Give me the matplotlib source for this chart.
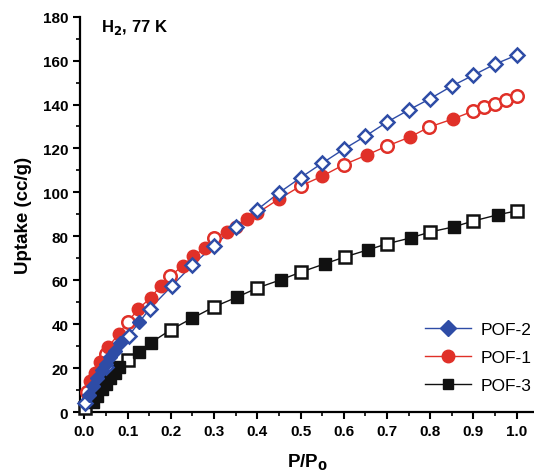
import matplotlib.pyplot as plt
import numpy as np
from matplotlib.ticker import MultipleLocator

# POF-2 (blue diamonds)
pof2_fill_x = [0.01, 0.02, 0.03, 0.04, 0.05, 0.06, 0.07, 0.083, 0.127]
pof2_fill_y = [8, 12, 15.5, 19, 22, 25, 28, 31.4, 41]
pof2_open_x = [0.002, 0.05, 0.102, 0.151, 0.203, 0.25, 0.30, 0.35, 0.40, 0.45, 0.50,
               0.55, 0.60, 0.65, 0.70, 0.75, 0.80, 0.85, 0.90, 0.95, 1.0]
pof2_open_y = [4, 20.5, 34.6, 47, 57.6, 67, 75.8, 84.3, 92.2, 99.8, 106.7,
               113.3, 119.7, 125.6, 132, 137.5, 142.7, 148.4, 153.4, 158.4, 162.5]

# POF-1 (red circles)
pof1_fill_x = [0.014, 0.025, 0.035, 0.055, 0.079, 0.125, 0.153, 0.176, 0.227, 0.252,
               0.278, 0.329, 0.35, 0.377, 0.40, 0.45, 0.55, 0.653, 0.753, 0.852]
pof1_fill_y = [14, 18, 23, 29.6, 35.5, 47, 52, 57.4, 66.5, 71,
               74.6, 82, 84.2, 87.8, 90.6, 97, 107.4, 117, 125.2, 133.4]
pof1_open_x = [0.005, 0.049, 0.10, 0.199, 0.299, 0.50, 0.60, 0.70, 0.797,
               0.899, 0.925, 0.95, 0.976, 1.0]
pof1_open_y = [9, 26.4, 41, 62, 79.2, 102.9, 112.6, 121.1, 129.7,
               137, 138.8, 140.2, 142, 143.8]

# POF-3 (black squares)
pof3_fill_x = [0.02, 0.03, 0.04, 0.05, 0.06, 0.07, 0.08, 0.127, 0.153, 0.25,
               0.354, 0.454, 0.556, 0.655, 0.755, 0.854, 0.956]
pof3_fill_y = [4.5, 7.5, 10.5, 13, 15.5, 18, 20.5, 27.5, 31.5, 42.8,
               52.4, 60.2, 67.5, 73.8, 79.3, 84.3, 89.8]
pof3_open_x = [0.002, 0.01, 0.10, 0.20, 0.30, 0.40, 0.502, 0.602, 0.70, 0.80, 0.90, 1.0]
pof3_open_y = [2, 6.5, 23.5, 37.5, 47.9, 56.5, 63.8, 70.6, 76.6, 82, 87, 91.6]

x_ticks = [0.0, 0.1, 0.2, 0.3, 0.4, 0.5, 0.6, 0.7, 0.8, 0.9, 1.0]
y_ticks = [0, 20, 40, 60, 80, 100, 120, 140, 160, 180]

plt.rcParams["font.family"] = ["Liberation Sans", "DejaVu Sans"]


def draw_series(ax, fx, fy, ox, oy, color, marker, ms):
    x = np.array(fx + ox)
    y = np.array(fy + oy)
    order = np.argsort(x)
    ax.plot(x[order], y[order], color=color, lw=1.0, zorder=2)
    ax.plot(ox, oy, ls="none", marker=marker, ms=ms, mfc="white", mec=color,
            mew=1.8, zorder=3, clip_on=False)
    ax.plot(fx, fy, ls="none", marker=marker, ms=ms, mfc=color, mec=color,
            mew=1.0, zorder=3, clip_on=False)


fig = plt.figure(figsize=(5.34, 4.77), dpi=100)
ax = fig.add_axes([0.150, 0.134, 0.850, 0.829])

draw_series(ax, pof3_fill_x, pof3_fill_y, pof3_open_x, pof3_open_y,
            "#111111", "s", 8)
draw_series(ax, pof1_fill_x, pof1_fill_y, pof1_open_x, pof1_open_y,
            "#e03028", "o", 9)
draw_series(ax, pof2_fill_x, pof2_fill_y, pof2_open_x, pof2_open_y,
            "#2e4ca6", "D", 7.5)

h2 = ax.plot([], [], color="#2e4ca6", lw=1.0, marker="D", ms=8)[0]
h1 = ax.plot([], [], color="#e03028", lw=1.0, marker="o", ms=9)[0]
h3 = ax.plot([], [], color="#111111", lw=1.0, marker="s", ms=7)[0]
ax.legend([h2, h1, h3], ["POF-2", "POF-1", "POF-3"], loc="lower right",
          bbox_to_anchor=(1.03, 0.008), frameon=False, fontsize=12.5,
          handlelength=2.6, labelspacing=0.75, handletextpad=0.6)

ax.set_xlim(-0.01, 1.04)
ax.set_ylim(0, 180)
ax.set_xticks(x_ticks)
ax.set_yticks(y_ticks)
ax.set_xticklabels([f"{t:.1f}" for t in x_ticks])
ax.xaxis.set_minor_locator(MultipleLocator(0.05))
ax.yaxis.set_minor_locator(MultipleLocator(10))

for side in ["top", "right"]:
    ax.spines[side].set_visible(False)
for side in ["left", "bottom"]:
    ax.spines[side].set_linewidth(1.6)

ax.tick_params(which="major", direction="out", length=5, width=1.5,
               labelsize=11)
ax.tick_params(which="minor", direction="out", length=3, width=1.2)
for lab in ax.get_xticklabels() + ax.get_yticklabels():
    lab.set_fontweight("bold")

ax.set_xlabel("P/P$_\\mathbf{0}$", fontsize=13.5, fontweight="bold", labelpad=10)
ax.set_ylabel("Uptake (cc/g)", fontsize=13.5, fontweight="bold", labelpad=8)

ax.text(0.045, 0.975, "H$_\\mathbf{2}$, 77 K", transform=ax.transAxes,
        fontsize=12, fontweight="bold", va="center", ha="left")

fig.savefig("out.png", dpi=100)
